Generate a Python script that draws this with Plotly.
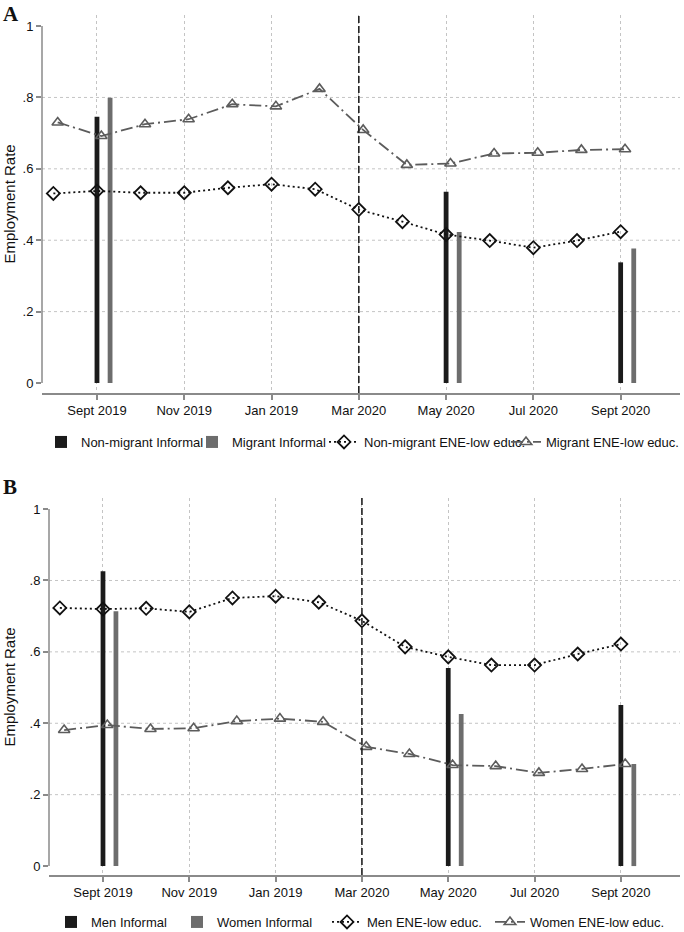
import plotly.graph_objects as go

# ---------------- data ----------------
# month index relative to Sept 2019 (Aug 2019 = -1 ... Sept 2020 = 12)
month_idx = [-1, 0, 1, 2, 3, 4, 5, 6, 7, 8, 9, 10, 11, 12]
tick_pos = [0, 2, 4, 6, 8, 10, 12]
tick_labels = ["Sept 2019", "Nov 2019", "Jan 2019", "Mar 2020", "May 2020", "Jul 2020", "Sept 2020"]
y_ticks = [0, 0.2, 0.4, 0.6, 0.8, 1]
y_tick_labels = ["0", ".2", ".4", ".6", ".8", "1"]
bar_months = [0, 8, 12]          # Sept 2019, May 2020, Sept 2020
covid_month = 6                  # Mar 2020

# Panel A
a_nonmig_ene = [0.531, 0.538, 0.533, 0.533, 0.547, 0.557, 0.543, 0.486, 0.452, 0.416, 0.399, 0.379, 0.399, 0.424]
a_mig_ene = [0.730, 0.692, 0.725, 0.739, 0.781, 0.775, 0.824, 0.709, 0.611, 0.615, 0.643, 0.645, 0.653, 0.655]
a_nonmig_inf = [0.746, 0.536, 0.338]
a_mig_inf = [0.799, 0.423, 0.377]

# Panel B
b_men_ene = [0.723, 0.720, 0.722, 0.712, 0.751, 0.756, 0.739, 0.687, 0.614, 0.586, 0.563, 0.563, 0.594, 0.622]
b_women_ene = [0.381, 0.395, 0.384, 0.386, 0.406, 0.413, 0.404, 0.334, 0.314, 0.283, 0.280, 0.261, 0.272, 0.286]
b_men_inf = [0.826, 0.555, 0.451]
b_women_inf = [0.714, 0.426, 0.286]

names_a = ["Non-migrant Informal", "Migrant Informal", "Non-migrant ENE-low educ.", "Migrant ENE-low educ."]
names_b = ["Men Informal", "Women Informal", "Men ENE-low educ.", "Women ENE-low educ."]
y_title = "Employment Rate"

# ---------------- style ----------------
FONT = "Liberation Sans"
SERIF = "Liberation Serif"
BLACK_BAR = "#1b1b1b"
GREY_BAR = "#6d6d6d"
TRI_COL = "#5c5c5c"
GRID = "#c4c4c4"
AXIS = "#8a8a8a"
BAR_W = 0.11
BAR_SHIFT = 0.3
TRI_SHIFT = 0.1
W, H = 684, 932

fig = go.Figure()


def add_panel(xa, ya, legs, inf1, inf2, ene1, ene2, names):
    fig.add_trace(go.Bar(x=bar_months, y=inf1, width=BAR_W, marker=dict(color=BLACK_BAR, line=dict(width=0)),
                         name=names[0], xaxis=xa, yaxis=ya, legend=legs[0]))
    fig.add_trace(go.Bar(x=[m + BAR_SHIFT for m in bar_months], y=inf2, width=BAR_W,
                         marker=dict(color=GREY_BAR, line=dict(width=0)),
                         name=names[1], xaxis=xa, yaxis=ya, legend=legs[1]))
    fig.add_trace(go.Scatter(x=month_idx, y=ene1, mode="lines+markers", name=names[2],
                             line=dict(color="#111111", width=1.8, dash="2px,3px"),
                             marker=dict(symbol="diamond-open", size=10, color="#111111", line=dict(width=1.8)),
                             xaxis=xa, yaxis=ya, legend=legs[2]))
    fig.add_trace(go.Scatter(x=[m + TRI_SHIFT for m in month_idx], y=ene2, mode="lines+markers", name=names[3],
                             line=dict(color=TRI_COL, width=1.8, dash="12px,4px,2px,4px"),
                             marker=dict(symbol="triangle-up-open", size=10, color=TRI_COL, line=dict(width=1.6)),
                             xaxis=xa, yaxis=ya, legend=legs[3]))


add_panel("x", "y", ["legend", "legend2", "legend3", "legend4"],
          a_nonmig_inf, a_mig_inf, a_nonmig_ene, a_mig_ene, names_a)
add_panel("x2", "y2", ["legend5", "legend6", "legend7", "legend8"],
          b_men_inf, b_women_inf, b_men_ene, b_women_ene, names_b)

xaxis_common = dict(tickmode="array", tickvals=tick_pos, ticktext=tick_labels,
                    showgrid=True, gridcolor=GRID, griddash="dot", gridwidth=1,
                    showline=True, linecolor=AXIS, linewidth=1.5,
                    ticks="outside", ticklen=5, tickcolor=AXIS, tickwidth=1.5,
                    tickfont=dict(size=13, color="#111", family=FONT), zeroline=False, automargin=False)
yaxis_common = dict(tickmode="array", tickvals=y_ticks, ticktext=y_tick_labels,
                    showgrid=False, showline=False, zeroline=False,
                    ticks="outside", ticklen=5, tickcolor=AXIS, tickwidth=1.5,
                    tickfont=dict(size=13, color="#111", family=FONT), automargin=False)

# legend text start positions (px) for each entry, and legend row centres
leg_text_x_a = [81, 232, 364, 549]
leg_text_x_b = [91, 217, 367, 530]
leg_y_a, leg_y_b = 442, 922
TEXT_OFF = 40

legends = {}
for i, tx in enumerate(leg_text_x_a + leg_text_x_b):
    key = "legend" if i == 0 else f"legend{i + 1}"
    ly = leg_y_a if i < 4 else leg_y_b
    legends[key] = dict(orientation="h", x=(tx - TEXT_OFF) / W, xanchor="left", y=1 - ly / H, yanchor="middle",
                        font=dict(size=13, family=FONT, color="#111"), bgcolor="rgba(0,0,0,0)",
                        itemwidth=30, borderwidth=0)
# last entry of panel A reaches the right edge of the page
legends["legend4"].update(x=1.0, xanchor="right")

fig.update_layout(
    width=W, height=H,
    margin=dict(l=0, r=0, t=0, b=0, autoexpand=False),
    paper_bgcolor="white", plot_bgcolor="white",
    font=dict(family=FONT, color="#111"),
    barmode="overlay",
    xaxis=dict(xaxis_common, domain=[42 / W, 680 / W], range=[-1.26, 13.36], anchor="y"),
    yaxis=dict(yaxis_common, domain=[1 - 393 / H, 1 - 15 / H], range=[-0.028, 1.031], anchor="x"),
    xaxis2=dict(xaxis_common, domain=[49 / W, 680 / W], range=[-1.251, 13.37], anchor="y2"),
    yaxis2=dict(yaxis_common, domain=[1 - 875 / H, 1 - 498 / H], range=[-0.025, 1.031], anchor="x2"),
    showlegend=True,
    **legends,
)

shapes = []
for xr, yr in (("x", "y"), ("x2", "y2")):
    # y-axis line spanning the labelled range
    shapes.append(dict(type="line", xref=f"{xr} domain", yref=yr, x0=0, x1=0, y0=y_ticks[0], y1=y_ticks[-1],
                       line=dict(color=AXIS, width=1.5)))
    # horizontal dotted gridlines at inner ticks
    for v in y_ticks[1:-1]:
        shapes.append(dict(type="line", xref=f"{xr} domain", yref=yr, x0=0, x1=1, y0=v, y1=v,
                           line=dict(color=GRID, width=1, dash="dot"), layer="below"))
    # vertical dashed line at Mar 2020
    shapes.append(dict(type="line", xref=xr, yref=f"{yr} domain", x0=covid_month, x1=covid_month, y0=0, y1=1,
                       line=dict(color="#222222", width=1.6, dash="7px,3px")))
fig.update_layout(shapes=shapes)

# y-axis titles (rotated text beside each panel)
for yr in ("y", "y2"):
    fig.add_annotation(text=y_title, textangle=-90, xref="paper", yref=yr, x=10 / W, y=0.5,
                       xanchor="center", yanchor="middle", showarrow=False,
                       font=dict(family=FONT, size=15, color="#111"))

fig.add_annotation(text="<b>A</b>", xref="paper", yref="paper", x=11 / W, y=1, xanchor="center",
                   yanchor="top", showarrow=False, font=dict(family=SERIF, size=21, color="#111"))
fig.add_annotation(text="<b>B</b>", xref="paper", yref="paper", x=10 / W, y=1 - 473 / H, xanchor="center",
                   yanchor="top", showarrow=False, font=dict(family=SERIF, size=21, color="#111"))

# remove the browser's default 8px page margin so the figure sits at the window origin
fig.write_html("out.html", config={"displayModeBar": False},
               post_script="document.body.style.margin='0';document.body.style.overflow='hidden';")
